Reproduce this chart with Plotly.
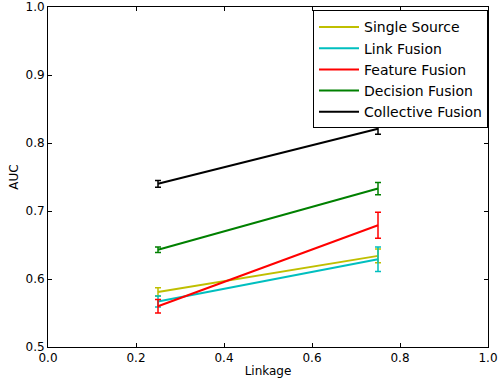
import plotly.graph_objects as go

linkage = [0.25, 0.75]
series_names = ["Single Source", "Link Fusion", "Feature Fusion", "Decision Fusion", "Collective Fusion"]
single_source = [0.581, 0.634]
single_source_err = [0.006, 0.010]
link_fusion = [0.567, 0.629]
link_fusion_err = [0.008, 0.018]
feature_fusion = [0.560, 0.679]
feature_fusion_err = [0.010, 0.019]
decision_fusion = [0.643, 0.733]
decision_fusion_err = [0.004, 0.009]
collective_fusion = [0.740, 0.821]
collective_fusion_err = [0.005, 0.008]

values = [single_source, link_fusion, feature_fusion, decision_fusion, collective_fusion]
errors = [single_source_err, link_fusion_err, feature_fusion_err, decision_fusion_err, collective_fusion_err]
colors = ["rgb(191,191,0)", "rgb(0,191,191)", "rgb(255,0,0)", "rgb(0,128,0)", "rgb(0,0,0)"]

fig = go.Figure()
for name, v, e, c in zip(series_names, values, errors, colors):
    fig.add_trace(go.Scatter(
        x=linkage, y=v, name=name, mode="lines",
        line=dict(color=c, width=2),
        error_y=dict(type="data", array=e, visible=True, color=c, thickness=1.5, width=3),
    ))

axis_common = dict(
    showgrid=False, zeroline=False, showline=True, linecolor="black", linewidth=1,
    mirror="ticks", ticks="inside", ticklen=4, tickcolor="black", automargin=False,
    tickfont=dict(family="DejaVu Sans", size=12, color="black"),
)
fig.update_layout(
    width=503, height=381,
    margin=dict(l=48, r=15, t=7, b=34),
    paper_bgcolor="white", plot_bgcolor="white",
    font=dict(family="DejaVu Sans", color="black"),
    xaxis=dict(range=[0, 1], dtick=0.2, tickformat=".1f",
               title=dict(text="Linkage", font=dict(size=12), standoff=2), **axis_common),
    yaxis=dict(range=[0.5, 1.0], dtick=0.1, tickformat=".1f",
               title=dict(text="AUC", font=dict(size=12), standoff=4), **axis_common),
    legend=dict(x=1.0, y=0.99, xanchor="right", yanchor="top",
                bordercolor="black", borderwidth=1, bgcolor="white",
                font=dict(family="DejaVu Sans", size=14), tracegroupgap=0,
                itemwidth=40),
    showlegend=True,
)
fig.write_html("out.html")
